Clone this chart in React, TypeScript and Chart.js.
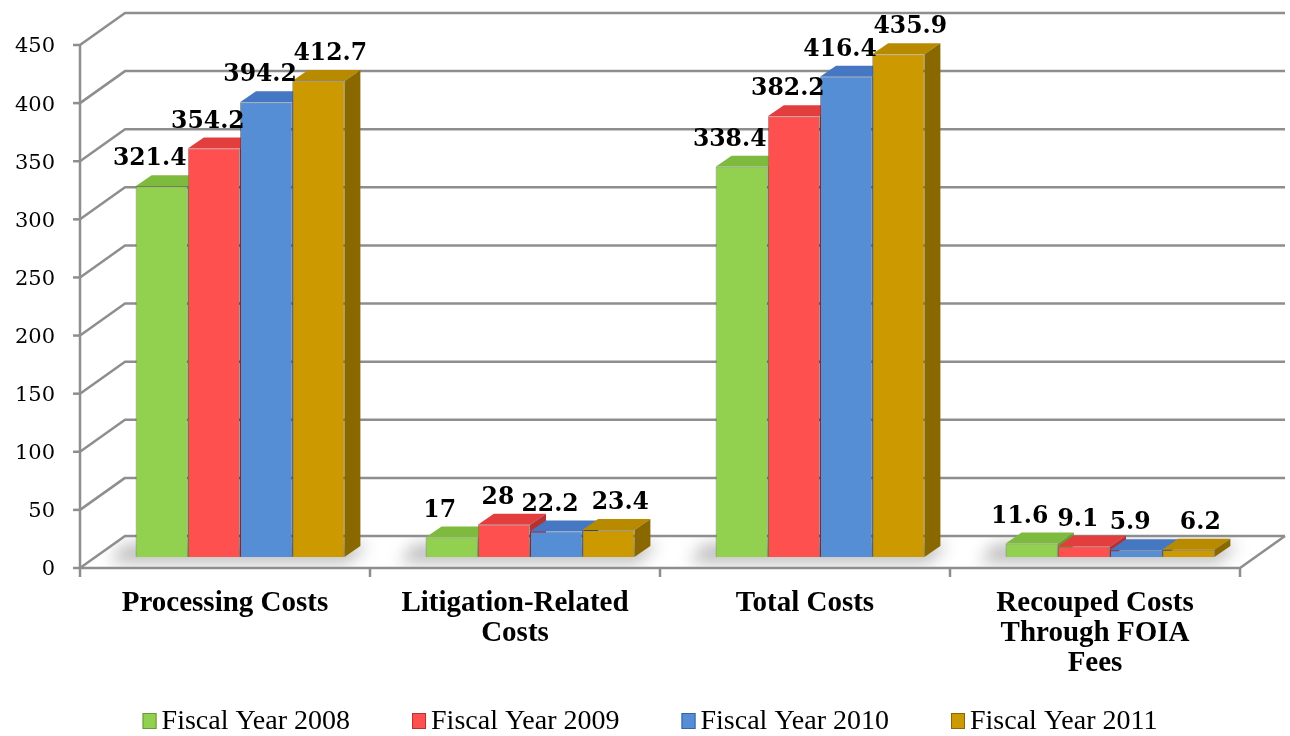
import React, { useEffect, useRef } from 'react';
import { Chart, registerables } from 'chart.js';

Chart.register(...registerables);

// ---- data ----
const categories: string[][] = [
  ['Processing Costs'],
  ['Litigation-Related', 'Costs'],
  ['Total Costs'],
  ['Recouped Costs', 'Through FOIA', 'Fees'],
];
const seriesNames = ['Fiscal Year 2008', 'Fiscal Year 2009', 'Fiscal Year 2010', 'Fiscal Year 2011'];
const fy2008 = [321.4, 17, 338.4, 11.6];
const fy2009 = [354.2, 28, 382.2, 9.1];
const fy2010 = [394.2, 22.2, 416.4, 5.9];
const fy2011 = [412.7, 23.4, 435.9, 6.2];
const yTicks = [0, 50, 100, 150, 200, 250, 300, 350, 400, 450];

// ---- styles ----
const frontColors = ['#92D050', '#FF5050', '#558ED5', '#CC9900'];
const topColors = ['#7DBA3E', '#E23E3E', '#4677C2', '#B88A00'];
const sideColors = ['#6A9A36', '#B53232', '#3A62A0', '#8A6800'];
const labelNudge = [-12, -6, -6, 12];
const FRONT_OFF = { dx: -15, dy: 11 };
const WALL = { dx: 45, dy: -32 };
const BAR_DEPTH = { dx: 16, dy: -11 };
const FRONT_SCALE = 523 / 519;
const GRID_COLOR = '#8E8E8E';
const SERIF = '"DejaVu Serif", serif';

function frontY(chart: any, v: number) {
  const ys = chart.scales.y;
  const b = ys.getPixelForValue(0);
  return b + FRONT_OFF.dy - (b - ys.getPixelForValue(v)) * FRONT_SCALE;
}
function frontX(chart: any, i: number) {
  const xs = chart.scales.x;
  const n = categories.length;
  const step = (xs.right - xs.left) / n;
  return xs.left + i * step + FRONT_OFF.dx;
}

const threeD = {
  id: 'threeD',
  beforeDatasetsDraw(chart: any) {
    const ctx = chart.ctx as CanvasRenderingContext2D;
    const n = categories.length;
    const x0 = frontX(chart, 0);
    const x4 = frontX(chart, n);
    const y0 = frontY(chart, 0);
    ctx.save();
    ctx.fillStyle = '#ffffff';
    ctx.fillRect(0, 0, chart.width, chart.height);

    // floor shadows
    ctx.save();
    ctx.beginPath();
    ctx.moveTo(x0, y0);
    ctx.lineTo(x4, y0);
    ctx.lineTo(x4 + WALL.dx, y0 + WALL.dy);
    ctx.lineTo(x0 + WALL.dx, y0 + WALL.dy);
    ctx.closePath();
    ctx.clip();
    ctx.filter = 'blur(8px)';
    ctx.fillStyle = 'rgba(0,0,0,0.26)';
    const metas = chart.getSortedVisibleDatasetMetas();
    for (let c = 0; c < n; c++) {
      let l = Infinity, r = -Infinity, base = 0;
      metas.forEach((m: any) => {
        const el = m.data[c];
        const p = el.getProps(['x', 'width', 'base'], true);
        l = Math.min(l, p.x - p.width / 2);
        r = Math.max(r, p.x + p.width / 2);
        base = p.base;
      });
      ctx.beginPath();
      ctx.moveTo(l - 26, base + 6);
      ctx.lineTo(r + 4, base + 6);
      ctx.lineTo(r + BAR_DEPTH.dx + 8, base + BAR_DEPTH.dy - 2);
      ctx.lineTo(l - 12, base + BAR_DEPTH.dy - 2);
      ctx.closePath();
      ctx.fill();
    }
    ctx.restore();

    // walls + grid
    ctx.strokeStyle = GRID_COLOR;
    ctx.lineWidth = 2.5;
    ctx.lineJoin = 'round';
    yTicks.forEach((v) => {
      const y = frontY(chart, v);
      ctx.beginPath();
      ctx.moveTo(x0, y);
      ctx.lineTo(x0 + WALL.dx, y + WALL.dy);
      ctx.lineTo(x4 + WALL.dx, y + WALL.dy);
      ctx.stroke();
      ctx.beginPath();
      ctx.moveTo(x0 - 7, y);
      ctx.lineTo(x0, y);
      ctx.stroke();
    });
    ctx.beginPath();
    ctx.moveTo(x0, y0);
    ctx.lineTo(x4, y0);
    ctx.lineTo(x4 + WALL.dx, y0 + WALL.dy);
    ctx.stroke();
    ctx.beginPath();
    ctx.moveTo(x0, y0);
    ctx.lineTo(x0, frontY(chart, yTicks[yTicks.length - 1]));
    ctx.stroke();
    for (let i = 0; i <= n; i++) {
      const x = frontX(chart, i);
      ctx.beginPath();
      ctx.moveTo(x, y0);
      ctx.lineTo(x, y0 + 9);
      ctx.stroke();
    }

    // y tick labels
    ctx.fillStyle = '#000';
    ctx.font = '21px ' + SERIF;
    ctx.textAlign = 'right';
    ctx.textBaseline = 'middle';
    yTicks.forEach((v) => {
      ctx.fillText(String(v), x0 - 25, frontY(chart, v) + 2);
    });

    // category labels
    ctx.font = 'bold 29px "Liberation Serif", serif';
    ctx.textAlign = 'center';
    categories.forEach((lines, i) => {
      const cx = (frontX(chart, i) + frontX(chart, i + 1)) / 2;
      lines.forEach((t, k) => {
        ctx.fillText(t, cx, y0 + 36 + k * 30);
      });
    });
    ctx.restore();
  },
  afterDatasetsDraw(chart: any) {
    const ctx = chart.ctx as CanvasRenderingContext2D;
    const metas = chart.data.datasets.map((_: any, i: number) => chart.getDatasetMeta(i));
    ctx.save();
    for (let c = 0; c < categories.length; c++) {
      metas.forEach((m: any, di: number) => {
        const el = m.data[c];
        el.draw(ctx);
        const p = el.getProps(['x', 'y', 'base', 'width'], true);
        const l = p.x - p.width / 2;
        const r = p.x + p.width / 2;
        ctx.beginPath();
        ctx.moveTo(l, p.y);
        ctx.lineTo(r, p.y);
        ctx.lineTo(r + BAR_DEPTH.dx, p.y + BAR_DEPTH.dy);
        ctx.lineTo(l + BAR_DEPTH.dx, p.y + BAR_DEPTH.dy);
        ctx.closePath();
        ctx.fillStyle = topColors[di];
        ctx.fill();
        ctx.beginPath();
        ctx.moveTo(r, p.y);
        ctx.lineTo(r + BAR_DEPTH.dx, p.y + BAR_DEPTH.dy);
        ctx.lineTo(r + BAR_DEPTH.dx, p.base + BAR_DEPTH.dy);
        ctx.lineTo(r, p.base);
        ctx.closePath();
        ctx.fillStyle = sideColors[di];
        ctx.fill();
      });
    }
    // value labels
    ctx.fillStyle = '#000';
    ctx.font = 'bold 23.5px ' + SERIF;
    ctx.textAlign = 'center';
    ctx.textBaseline = 'middle';
    metas.forEach((m: any, di: number) => {
      const values = chart.data.datasets[di].data as number[];
      m.data.forEach((el: any, c: number) => {
        const p = el.getProps(['x', 'y'], true);
        ctx.fillText(String(values[c]), p.x + labelNudge[di], p.y - 27);
      });
    });
    ctx.restore();
  },
  afterDraw(chart: any) {
    const ctx = chart.ctx as CanvasRenderingContext2D;
    ctx.save();
    ctx.font = '28px "Liberation Serif", serif';
    ctx.textBaseline = 'middle';
    ctx.textAlign = 'left';
    const box = 14, gap = 5, spacing = 62;
    const widths = seriesNames.map((s) => ctx.measureText(s).width);
    const total = widths.reduce((a, w) => a + box + gap + w, 0) + spacing * (seriesNames.length - 1);
    let x = 650 - total / 2;
    const y = 721;
    seriesNames.forEach((s, i) => {
      ctx.fillStyle = frontColors[i];
      ctx.fillRect(x, y - 8, box, 16);
      ctx.strokeStyle = sideColors[i];
      ctx.lineWidth = 1;
      ctx.strokeRect(x + 0.5, y - 7.5, box - 1, 15);
      ctx.fillStyle = '#000';
      ctx.fillText(s, x + box + gap, y + 1);
      x += box + gap + widths[i] + spacing;
    });
    ctx.restore();
  },
};

export default function App() {
  const ref = useRef<HTMLCanvasElement | null>(null);
  useEffect(() => {
    document.body.style.margin = '0';
    const canvas = ref.current!;
    const seriesData = [fy2008, fy2009, fy2010, fy2011];
    const chart = new Chart(canvas, {
      type: 'bar',
      data: {
        labels: categories,
        datasets: seriesNames.map((name, i) => ({
          label: name,
          data: seriesData[i],
          backgroundColor: frontColors[i],
          borderColor: 'rgba(0,0,0,0.22)',
          borderWidth: 1,
          categoryPercentage: 0.72,
          barPercentage: 1.0,
        })),
      },
      options: {
        animation: false,
        responsive: false,
        devicePixelRatio: 1,
        layout: { padding: { left: 95, right: 35, top: 38, bottom: 179 } },
        scales: {
          x: { display: false },
          y: { display: false, min: 0, max: 450 },
        },
        plugins: {
          legend: { display: false },
          tooltip: { enabled: false },
        },
      },
      plugins: [threeD],
    });
    return () => chart.destroy();
  }, []);
  return (
    <div style={{ width: 1290, height: 736 }}>
      <canvas ref={ref} width={1290} height={736} style={{ display: 'block' }} />
    </div>
  );
}
